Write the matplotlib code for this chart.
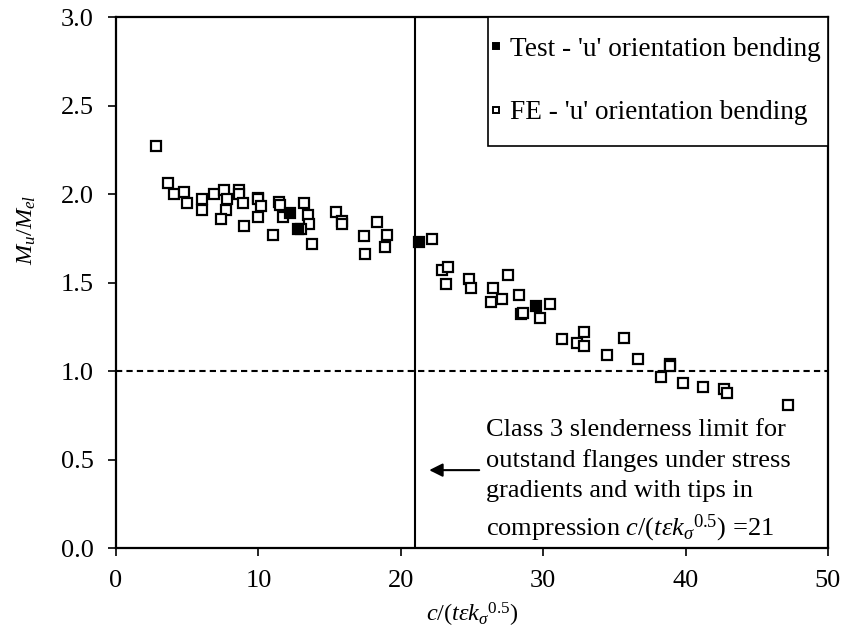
import matplotlib
matplotlib.use("Agg")
import matplotlib.pyplot as plt
from matplotlib.lines import Line2D
from matplotlib.patches import Rectangle

plt.rcParams['font.family'] = ['Liberation Serif', 'DejaVu Serif']
plt.rcParams['mathtext.fontset'] = 'custom'
plt.rcParams['mathtext.rm'] = 'Liberation Serif'
plt.rcParams['mathtext.it'] = 'Liberation Serif:italic'
plt.rcParams['mathtext.bf'] = 'Liberation Serif:bold'

# slenderness c/(t eps k_sigma^0.5) and normalised moment capacity Mu/Mel
test_x = [12.2, 12.8, 21.3, 29.5]
test_y = [1.89, 1.80, 1.73, 1.365]

fe_x = [2.83, 3.68, 4.08, 4.78, 5.02, 6.07, 6.07, 6.85, 7.55, 7.78,
        7.71, 7.38, 8.65, 8.65, 8.93, 8.98, 9.94, 9.98, 10.2, 9.94,
        11.04, 11.42, 11.5, 11.7, 13.2, 13.45, 13.57, 13.76, 13.0, 15.45,
        15.9, 15.9, 18.33, 17.44, 19.04, 18.9, 17.5, 22.17, 22.9, 23.3,
        23.2, 24.8, 24.9, 26.5, 26.3, 27.1, 27.5, 28.3, 28.46, 28.6,
        29.75, 30.5, 31.3, 32.4, 32.9, 32.9, 34.5, 35.7, 36.66, 38.9,
        38.9, 38.3, 39.8, 41.2, 42.7, 42.9, 47.2]
fe_y = [2.27, 2.06, 2.00, 2.01, 1.95, 1.97, 1.91, 2.00, 2.02, 1.97,
        1.91, 1.86, 2.02, 2.00, 1.95, 1.82, 1.98, 1.97, 1.93, 1.87,
        1.77, 1.955, 1.94, 1.87, 1.95, 1.88, 1.83, 1.72, 1.80, 1.90,
        1.85, 1.83, 1.84, 1.765, 1.77, 1.70, 1.66, 1.745, 1.57, 1.59,
        1.49, 1.52, 1.47, 1.47, 1.39, 1.405, 1.54, 1.43, 1.32, 1.33,
        1.30, 1.377, 1.18, 1.157, 1.22, 1.14, 1.09, 1.185, 1.066, 1.04,
        1.03, 0.968, 0.934, 0.91, 0.90, 0.874, 0.81]

class3_limit = 21
xticks = [0, 10, 20, 30, 40, 50]
yticks = [0.0, 0.5, 1.0, 1.5, 2.0, 2.5, 3.0]

FS = 19

fig = plt.figure(figsize=(8.43, 6.35), dpi=100)
ax = fig.add_axes([0.1376, 0.137, 0.8446, 0.8362])

ax.plot(fe_x, fe_y, ls='none', marker='s', ms=6.5, mfc='white', mec='black', mew=1.6, zorder=3)
ax.plot(test_x, test_y, ls='none', marker='s', ms=6.5, mfc='black', mec='black', mew=1.6, zorder=4)

ax.axhline(1.0, color='black', lw=1.5, ls=(0, (3, 2)), zorder=2)
ax.axvline(class3_limit, color='black', lw=1.5, zorder=2)

ax.set_xlim(0, 50)
ax.set_ylim(0, 3.0)
ax.set_xticks(xticks)
ax.set_yticks(yticks)
ax.set_yticklabels([f'{v:.1f}' for v in yticks])
ax.tick_params(direction='out', length=6, width=1.2, labelsize=FS, pad=10)
for s in ax.spines.values():
    s.set_linewidth(1.6)

ax.set_xlabel(r'$c/(t\varepsilon k_{\sigma}{}^{0.5})$', fontsize=17.5, labelpad=6)
ax.set_ylabel(r'$M_u/M_{el}$', fontsize=17.5)
ax.yaxis.set_label_coords(-0.11, 0.6)

# legend box in the upper right corner
ax.add_patch(Rectangle((0.522, 0.757), 0.478, 0.243, transform=ax.transAxes,
                       fill=True, facecolor='white', edgecolor='black', lw=1.2, zorder=5))
handles = [
    Line2D([], [], ls='none', marker='s', ms=5, mfc='black', mec='black', mew=1.4),
    Line2D([], [], ls='none', marker='s', ms=5, mfc='white', mec='black', mew=1.4),
]
leg = ax.legend(handles, ["Test - 'u' orientation bending", "FE - 'u' orientation bending"],
                loc='upper left', bbox_to_anchor=(0.499, 1.0), fontsize=19.6,
                frameon=False, borderaxespad=0,
                handlelength=0.4, handletextpad=0.3, labelspacing=1.42,
                borderpad=0.72)
leg.set_zorder(6)

ax.text(25.95, 0.073,
        'Class 3 slenderness limit for\n'
        'outstand flanges under stress\n'
        'gradients and with tips in\n'
        r'compression $c/(t\varepsilon k_{\sigma}{}^{0.5})$ =21',
        fontsize=FS, ha='left', va='baseline', linespacing=1.45)
ax.annotate('', xy=(21.8, 0.44), xytext=(25.7, 0.44),
            arrowprops=dict(arrowstyle='-|>', color='black', lw=1.5,
                            mutation_scale=20))

fig.savefig('out.png', dpi=100)
